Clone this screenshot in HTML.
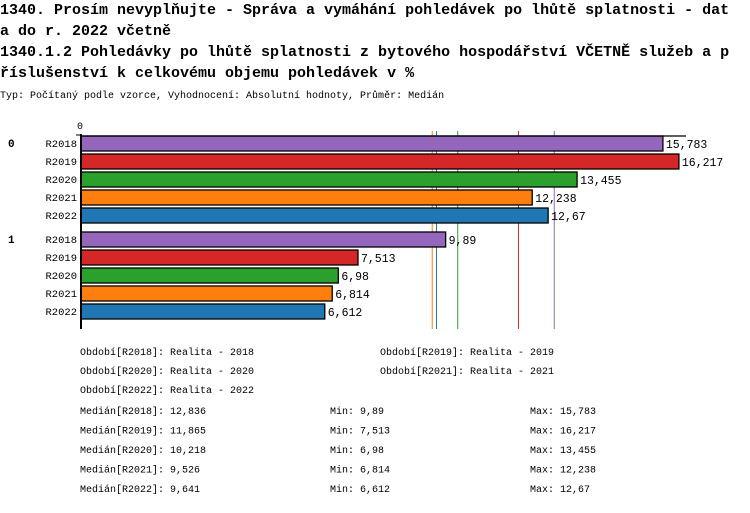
<!DOCTYPE html>
<html><head><meta charset="utf-8"><style>
body{margin:0;width:750px;height:508px;background:#fff;overflow:hidden;font-family:"Liberation Mono",monospace;}
svg text{font-family:"Liberation Mono",monospace;fill:#000;}
</style></head><body>
<svg id="c" width="750" height="508">
<text x="0" y="14" font-size="15" font-weight="bold">1340. Prosím nevyplňujte - Správa a vymáhání pohledávek po lhůtě splatnosti - dat</text>
<text x="0" y="35" font-size="15" font-weight="bold">a do r. 2022 včetně</text>
<text x="0" y="56" font-size="15" font-weight="bold">1340.1.2 Pohledávky po lhůtě splatnosti z bytového hospodářství VČETNĚ služeb a p</text>
<text x="0" y="77" font-size="15" font-weight="bold">říslušenství k celkovému objemu pohledávek v %</text>
<text x="0" y="98" font-size="10">Typ: Počítaný podle vzorce, Vyhodnocení: Absolutní hodnoty, Průměr: Medián</text>
<g id="plot"></g>
<g id="foot"></g>
</svg>
<script>
const groups = ['0','1'];
const periods = ['R2018','R2019','R2020','R2021','R2022'];
const values0 = [15.783,16.217,13.455,12.238,12.67];
const values1 = [9.89,7.513,6.98,6.814,6.612];
const labels0 = ['15,783','16,217','13,455','12,238','12,67'];
const labels1 = ['9,89','7,513','6,98','6,814','6,612'];
const medians = [12.836,11.865,10.218,9.526,9.641];
const medianLabels = ['12,836','11,865','10,218','9,526','9,641'];
const minLabels = ['9,89','7,513','6,98','6,814','6,612'];
const maxLabels = ['15,783','16,217','13,455','12,238','12,67'];
const periodNames = ['Realita - 2018','Realita - 2019','Realita - 2020','Realita - 2021','Realita - 2022'];
const colors = ['#9467bd','#d62728','#2ca02c','#ff7f0e','#1f77b4'];

const NS='http://www.w3.org/2000/svg';
const plotG=document.getElementById('plot'), footG=document.getElementById('foot');
const x0=81, scale=36.87;
const xs=v=>x0+v*scale;
const mk=(p,t,a)=>{const e=document.createElementNS(NS,t);for(const k in a)e.setAttribute(k,a[k]);p.appendChild(e);return e;};
const series=[values0,values1], slabels=[labels0,labels1];

const zl=mk(plotG,'text',{x:77,y:129,'font-size':10});zl.textContent='0';



medians.forEach((m,i)=>{
  const ml=mk(plotG,'line',{x1:xs(m),x2:xs(m),y1:131,y2:329,stroke:colors[i],'stroke-width':1});
  
  
});

groups.forEach((g,gi)=>{
  const gy=136+gi*96;
  const gl=mk(plotG,'text',{x:8,y:gy+11,'font-size':11,'font-weight':'bold'});gl.textContent=g;
  
  
  periods.forEach((p,i)=>{
    const y=gy+i*18;
    const l=mk(plotG,'text',{x:77,y:y+11,'font-size':10.5,'text-anchor':'end'});l.textContent=p;
    
    
    const v=series[gi][i];
    const r=mk(plotG,'rect',{x:x0,y:y,width:xs(v)-x0,height:15,fill:colors[i],stroke:'#000','stroke-width':1.3});
    
    
    const vl=mk(plotG,'text',{x:xs(v)+3,y:y+12,'font-size':11.5});vl.textContent=slabels[gi][i];
    
    
  });
});
const topLine=mk(plotG,'line',{x1:x0,x2:686,y1:136,y2:136,stroke:'#000','stroke-width':1.3});


const ax=mk(plotG,'line',{x1:x0,x2:x0,y1:134,y2:329,stroke:'#000','stroke-width':2});


const tk=mk(plotG,'line',{x1:76,x2:x0,y1:135,y2:135,stroke:'#000','stroke-width':1});



periods.forEach((p,i)=>{
  const x=i%2?380:80, y=355+Math.floor(i/2)*19;
  const e=mk(footG,'text',{x:x,y:y,'font-size':10});e.textContent='Období['+p+']: '+periodNames[i];
  
  
});
periods.forEach((p,i)=>{
  const y=414+i*19.5;
  const a=mk(footG,'text',{x:80,y:y,'font-size':10});a.textContent='Medián['+p+']: '+medianLabels[i];
  
  
  const b=mk(footG,'text',{x:330,y:y,'font-size':10});b.textContent='Min: '+minLabels[i];
  
  
  const c=mk(footG,'text',{x:530,y:y,'font-size':10});c.textContent='Max: '+maxLabels[i];
  
  
});
</script>
</body></html>
